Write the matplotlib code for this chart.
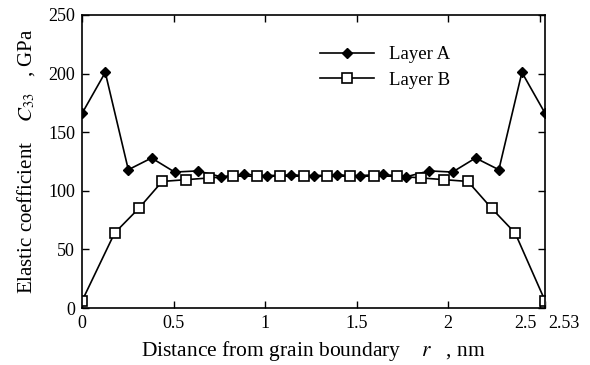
import numpy as np
import matplotlib
matplotlib.use("Agg")
import matplotlib.pyplot as plt
from matplotlib.transforms import ScaledTranslation

plt.rcParams['font.family'] = ['Liberation Serif', 'DejaVu Serif']
plt.rcParams['mathtext.fontset'] = 'stix'

# Layer A (diamonds) - distance r, nm and C33, GPa
r_a = [0, 0.127, 0.253, 0.380, 0.506, 0.633, 0.759, 0.886, 1.012, 1.139, 1.265,
       1.391, 1.518, 1.644, 1.771, 1.897, 2.024, 2.150, 2.277, 2.403, 2.53]
c_a = [166, 201, 118, 128, 116, 117, 112, 114, 113, 113.5, 113,
       113.5, 113, 114, 112, 117, 116, 128, 118, 201, 166]

# Layer B (open squares)
r_b = [0, 0.178, 0.310, 0.438, 0.567, 0.696, 0.825, 0.954, 1.082, 1.210, 1.338,
       1.466, 1.595, 1.723, 1.852, 1.980, 2.108, 2.238, 2.366, 2.53]
c_b = [6, 64, 85, 108, 109.5, 111, 112.5, 112.5, 112.5, 112.5, 112.5,
       112.5, 112.5, 112.5, 111, 109.5, 108, 85, 64, 6]

xticks = [0, 0.5, 1, 1.5, 2, 2.5, 2.53]
xticklabels = ['0', '0.5', '1', '1.5', '2', '2.5', '2.53']
yticks = [0, 50, 100, 150, 200, 250]

fig = plt.figure(figsize=(5.9, 3.65), dpi=100)
ax = fig.add_axes([0.139, 0.156, 0.785, 0.803])

ax.plot(r_a, c_a, color='black', lw=1.2, marker='D', ms=5, mfc='black',
        mec='black', label='Layer A')
ax.plot(r_b, c_b, color='black', lw=1.2, marker='s', ms=7, mfc='white',
        mec='black', mew=1.2, label='Layer B')

ax.set_xlim(0, 2.53)
ax.set_ylim(0, 250)
ax.set_xticks(xticks)
ax.set_xticklabels(xticklabels)
ax.set_yticks(yticks)
ax.tick_params(direction='in', length=5, width=1, top=True, right=True,
               labelsize=13, pad=5)

# 2.5 and 2.53 sit close together: push them apart
labs = ax.get_xticklabels()
labs[-2].set_horizontalalignment('right')
labs[-2].set_transform(labs[-2].get_transform() + ScaledTranslation(-3 / 100, 0, fig.dpi_scale_trans))
labs[-1].set_horizontalalignment('left')
labs[-1].set_transform(labs[-1].get_transform() + ScaledTranslation(3 / 100, 0, fig.dpi_scale_trans))
ax.xaxis.get_major_ticks()[-1].tick2line.set_visible(False)

for s in ax.spines.values():
    s.set_linewidth(1.2)

ax.set_xlabel('Distance from grain boundary    $r$   , nm', fontsize=15.5, labelpad=5)
ax.set_ylabel('Elastic coefficient    $C_{33}$   , GPa', fontsize=15, labelpad=8)

ax.legend(loc='upper left', bbox_to_anchor=(0.514, 0.893), frameon=False,
          borderaxespad=0, borderpad=0,
          fontsize=13.5, handlelength=2.9, handletextpad=0.75, labelspacing=0.45)

fig.savefig('out.png', dpi=100)
